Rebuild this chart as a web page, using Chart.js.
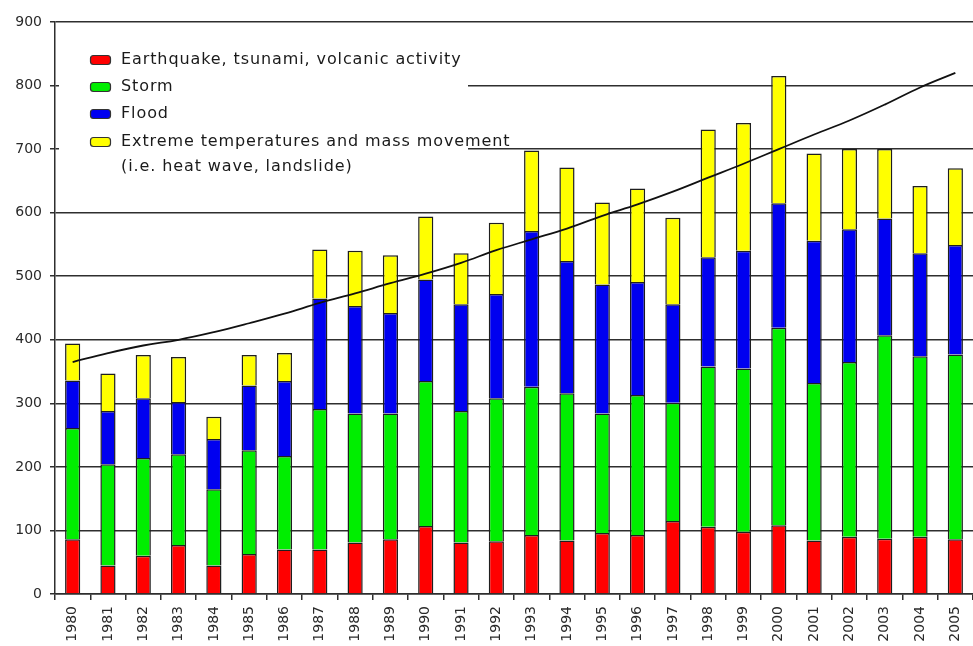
<!DOCTYPE html>
<html>
<head>
<meta charset="utf-8">
<title>Natural disasters 1980-2005</title>
<script src="https://cdn.jsdelivr.net/npm/chart.js@4"></script>
<style>
    html, body { margin: 0; padding: 0; background: #ffffff; }
    #disasterChart { display: block; }
</style>
</head>
<body>
<canvas id="disasterChart" width="973" height="646"></canvas>
<script>
// Years on the x axis
const years = ['1980', '1981', '1982', '1983', '1984', '1985', '1986', '1987', '1988', '1989',
    '1990', '1991', '1992', '1993', '1994', '1995', '1996', '1997', '1998', '1999',
    '2000', '2001', '2002', '2003', '2004', '2005'];

// Number of events per year, by type
const geophysical = [86, 45, 60, 77, 45, 63, 70, 70, 81, 86, 107, 81, 83, 93, 84, 96, 93, 115, 106, 98, 108, 84, 90, 87, 90, 86];
const storm = [175, 159, 154, 143, 120, 163, 147, 221, 203, 198, 228, 207, 225, 233, 232, 188, 220, 186, 252, 257, 311, 248, 275, 320, 284, 291];
const flood = [75, 84, 94, 82, 79, 102, 118, 174, 169, 158, 160, 168, 164, 245, 208, 203, 178, 155, 172, 185, 196, 224, 209, 184, 162, 172];
const extreme = [58, 59, 68, 71, 35, 48, 44, 77, 87, 91, 99, 80, 112, 127, 147, 129, 147, 136, 201, 201, 200, 137, 126, 109, 106, 121];

// Trend of the yearly total
const trend = [365, 379, 391, 400, 412, 426, 441, 458, 473, 489, 504, 521, 541, 558, 575, 595, 613, 633, 655, 677, 700, 723, 745, 770, 797, 820];

// Y axis range
const yMin = 0;
const yMax = 900;
const yStep = 100;

const legendLabels = [
    ['Earthquake, tsunami, volcanic activity'],
    ['Storm'],
    ['Flood'],
    ['Extreme temperatures and mass movement', '(i.e. heat wave, landslide)']
];

const FONT = '"DejaVu Sans", Verdana, sans-serif';
const LINE_COLOR = '#2e2e2e';

// Legend drawn inside the plot, on a white box over the grid lines
const insideLegend = {
    id: 'insideLegend',
    afterDraw(chart) {
        const ctx = chart.ctx;
        const area = chart.chartArea;
        const bars = chart.data.datasets.filter(d => d.type !== 'line');

        ctx.save();
        ctx.fillStyle = '#ffffff';
        ctx.fillRect(area.left + 4, area.top + 2, 468 - area.left - 4, 168);

        ctx.font = '16px ' + FONT;
        ctx.letterSpacing = '0.9px';
        ctx.textBaseline = 'middle';
        ctx.textAlign = 'left';

        const rows = [60, 87, 114, 142];
        bars.forEach((ds, i) => {
            const y = rows[i];
            ctx.beginPath();
            ctx.roundRect(90.5, y - 4.5, 20, 9, 3);
            ctx.fillStyle = ds.backgroundColor;
            ctx.fill();
            ctx.lineWidth = 1.2;
            ctx.strokeStyle = '#333333';
            ctx.stroke();

            ctx.fillStyle = '#1a1a1a';
            legendLabels[i].forEach((line, j) => {
                ctx.fillText(line, 121, y + j * 25);
            });
        });
        ctx.restore();
    }
};

function makeBarDataset(label, data, color) {
    return {
        type: 'bar',
        label: label,
        data: data,
        backgroundColor: color,
        borderColor: '#1e1e1e',
        borderWidth: 1.5,
        stack: 'events',
        order: 1,
        barPercentage: 0.43,
        categoryPercentage: 1
    };
}

// Function to Render the Stacked Disaster Chart
function renderDisasterChart() {
    const ctx = document.getElementById('disasterChart').getContext('2d');

    new Chart(ctx, {
        data: {
            labels: years,
            datasets: [
                makeBarDataset('Earthquake, tsunami, volcanic activity', geophysical, '#ff0000'),
                makeBarDataset('Storm', storm, '#00ee00'),
                makeBarDataset('Flood', flood, '#0000f0'),
                makeBarDataset('Extreme temperatures and mass movement', extreme, '#ffff00'),
                {
                    type: 'line',
                    label: 'Trend',
                    data: trend,
                    stack: 'trend',
                    order: 0,
                    borderColor: '#111111',
                    borderWidth: 1.8,
                    pointRadius: 0,
                    tension: 0.4,
                    fill: false
                }
            ]
        },
        options: {
            responsive: false,
            animation: false,
            devicePixelRatio: 1,
            layout: {
                padding: { top: 22, right: 0, bottom: 0, left: 0 }
            },
            plugins: {
                legend: { display: false },
                tooltip: { enabled: false }
            },
            scales: {
                x: {
                    stacked: true,
                    grid: {
                        offset: true,
                        drawOnChartArea: false,
                        drawTicks: true,
                        tickLength: 6,
                        color: LINE_COLOR,
                        lineWidth: 1.5
                    },
                    border: { color: LINE_COLOR, width: 1.5 },
                    ticks: {
                        minRotation: 90,
                        maxRotation: 90,
                        autoSkip: false,
                        padding: 6,
                        color: '#2a2a2a',
                        font: { family: FONT, size: 14 }
                    },
                    afterFit(scale) {
                        scale.height = 52;
                        scale.paddingLeft = 0;
                        scale.paddingRight = 0;
                    }
                },
                y: {
                    stacked: true,
                    min: yMin,
                    max: yMax,
                    grid: {
                        color: LINE_COLOR,
                        lineWidth: 1.5,
                        tickLength: 5
                    },
                    border: { color: LINE_COLOR, width: 1.5 },
                    ticks: {
                        stepSize: yStep,
                        padding: 8,
                        color: '#2a2a2a',
                        font: { family: FONT, size: 14 }
                    },
                    afterFit(scale) {
                        scale.width = 55;
                        scale.paddingTop = 0;
                        scale.paddingBottom = 0;
                    }
                }
            }
        },
        plugins: [insideLegend]
    });
}

window.addEventListener('DOMContentLoaded', () => {
    renderDisasterChart();
});
</script>
</body>
</html>
